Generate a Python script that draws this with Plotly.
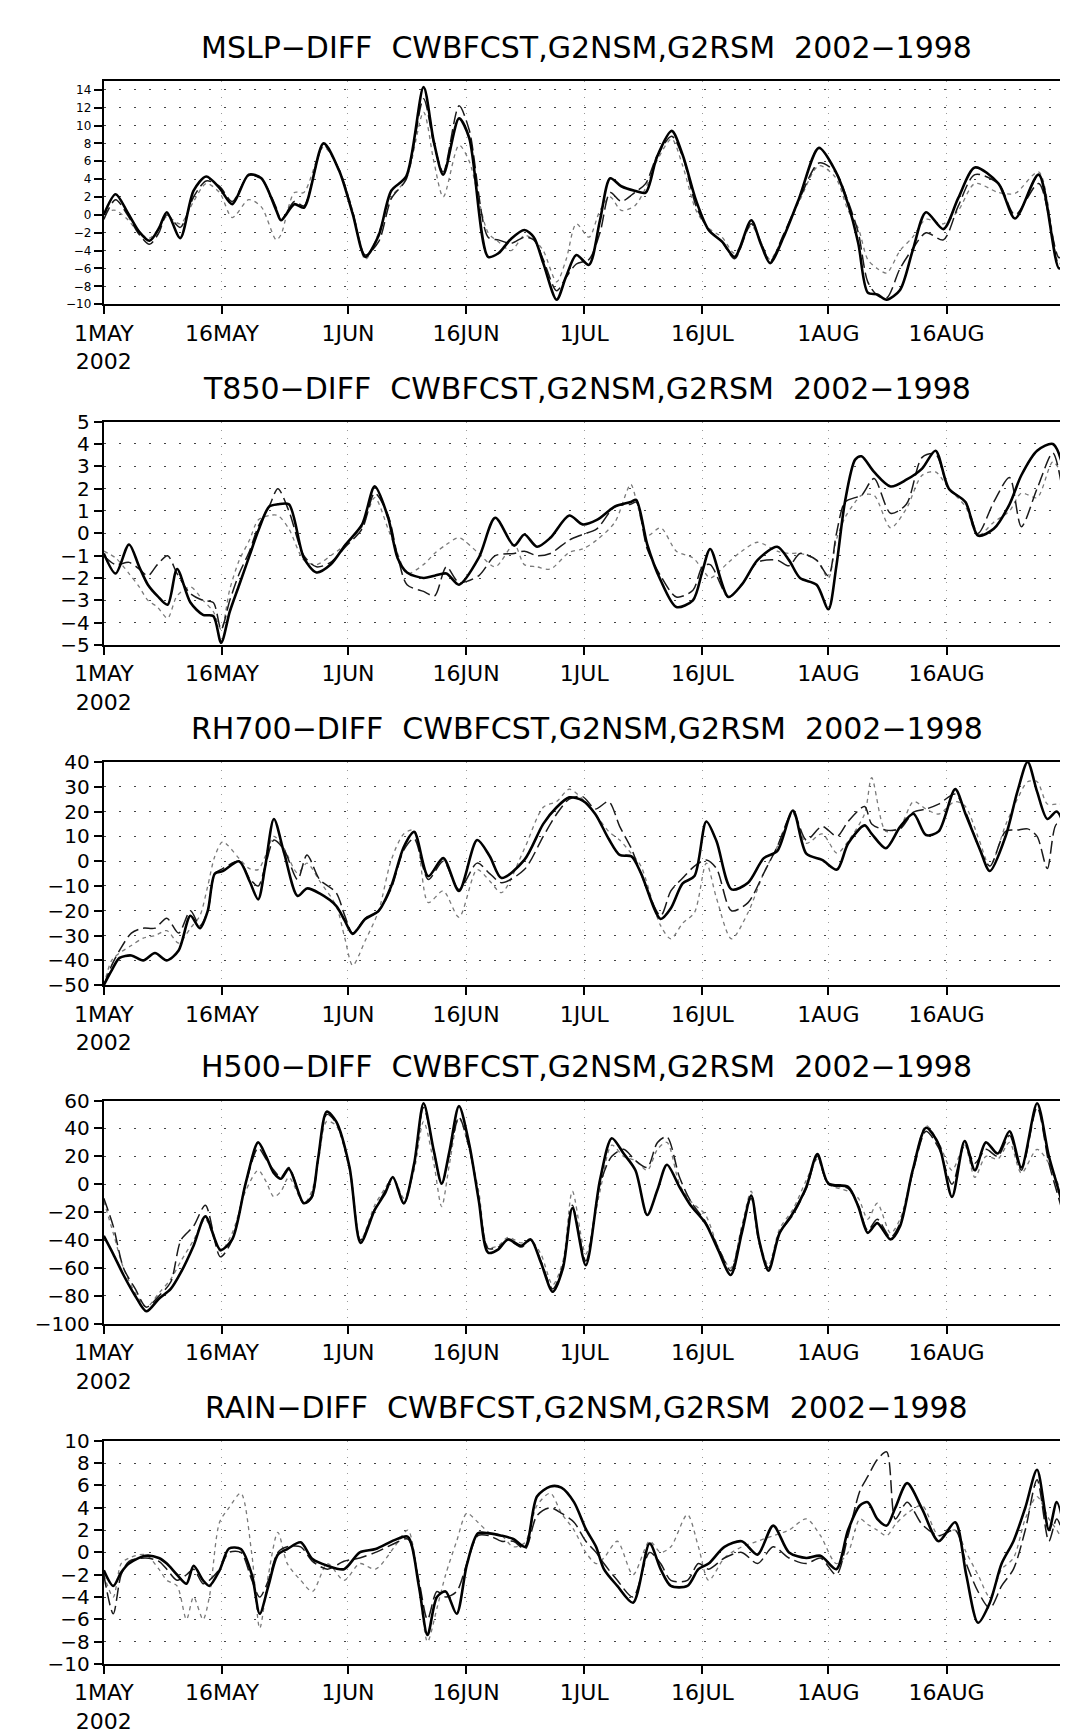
import plotly.graph_objects as go

# ---------------- shared axis labels ----------------
TICK_DAYS = [0, 15, 31, 46, 61, 76, 92, 107]          # days since 1 May 2002
TICK_TEXT = ["1MAY<br>2002", "16MAY", "1JUN", "16JUN", "1JUL", "16JUL", "1AUG", "16AUG"]
X_RANGE = [0, 122.7]

TITLES = [
    "MSLP\u2212DIFF\u00a0\u00a0CWBFCST,G2NSM,G2RSM\u00a0\u00a02002\u22121998",
    "T850\u2212DIFF\u00a0\u00a0CWBFCST,G2NSM,G2RSM\u00a0\u00a02002\u22121998",
    "RH700\u2212DIFF\u00a0\u00a0CWBFCST,G2NSM,G2RSM\u00a0\u00a02002\u22121998",
    "H500\u2212DIFF\u00a0\u00a0CWBFCST,G2NSM,G2RSM\u00a0\u00a02002\u22121998",
    "RAIN\u2212DIFF\u00a0\u00a0CWBFCST,G2NSM,G2RSM\u00a0\u00a02002\u22121998",
]

# ---------------- MSLP ----------------
mslp_days = [0, 1.5, 3, 4.5, 5.8, 7, 8, 9.7, 11.4, 13,
             14.7, 16.3, 18.4, 20, 21.9, 22.5, 24.2, 25.4, 27.9, 29.9,
             31.6, 33.2, 34.9, 36.5, 38.4, 40.6, 41.9, 43.1, 45.1, 46.4,
             48.8, 50.1, 51.7, 53.4, 54.6, 55.8, 57.5, 58.7, 60, 61.6,
             63, 64.3, 65.7, 67.4, 68.8, 70.2, 72.1, 73.5, 75.2, 76.8,
             78.5, 80.1, 82.2, 83.4, 84.6, 86.3, 88.3, 90.8, 92.9, 94.5,
             95.8, 97, 98.2, 99.4, 101.1, 102.7, 104.4, 106.6, 108.5, 110.6,
             113.6, 115.7, 118.7, 121.3, 122.7]
mslp_cwb = [0.0, 2.3, 0.3, -1.9, -2.9, -1.5, 0.3, -2.6, 2.7, 4.3,
            3.0, 1.2, 4.5, 4.1, 0.5, -0.6, 1.2, 0.8, 8.0, 4.9,
            0.1, -4.7, -2.3, 2.7, 4.3, 14.3, 8.2, 4.5, 10.8, 8.6,
            -4.7, -4.3, -2.7, -1.7, -2.5, -5.4, -9.5, -6.9, -4.5, -5.6,
            -0.6, 4.1, 3.2, 2.7, 2.5, 6.4, 9.4, 6.7, 1.6, -1.7,
            -3.0, -4.7, -0.6, -3.2, -5.4, -2.5, 1.9, 7.5, 4.9, 1.2,
            -3.2, -8.7, -8.9, -9.5, -8.4, -4.0, 0.3, -1.6, 1.9, 5.3,
            3.5, -0.4, 4.5, -6.0, -3.2]
mslp_nsm = [-0.5, 1.7, 0.0, -2.2, -3.3, -2.0, 0.0, -1.4, 2.0, 3.8,
            3.2, 1.5, 4.4, 4.0, 0.8, -0.6, 1.5, 1.0, 7.8, 5.0,
            0.3, -4.5, -3.0, 1.8, 4.0, 13.0, 8.0, 4.8, 12.2, 9.5,
            -2.5, -2.8, -3.2, -2.5, -2.8, -5.0, -8.5, -7.0, -5.5, -5.0,
            -2.0, 2.5, 1.5, 2.5, 3.5, 6.5, 8.8, 6.5, 1.0, -1.7,
            -3.0, -4.9, -1.0, -3.0, -5.2, -2.2, 1.7, 5.8, 4.8, 1.5,
            -2.0, -7.5, -9.0, -9.3, -6.0, -3.8, -2.0, -2.8, 1.0, 4.5,
            3.5, 0.0, 3.5, -4.8, -2.5]
mslp_rsm = [0.3, 0.5, -0.5, -2.0, -2.6, -1.5, -0.2, -1.0, 1.5, 3.5,
            2.5, -0.3, 1.7, 0.9, -2.8, -2.2, 2.5, 2.5, 7.6, 5.0,
            0.5, -5.0, -2.0, 2.0, 4.0, 11.5, 6.0, 2.0, 7.8, 6.0,
            -2.0, -3.0, -4.0, -2.3, -2.8, -4.0, -7.5, -5.0, -1.0, -2.5,
            0.5, 2.0, 0.5, 1.0, 3.0, 6.0, 8.5, 5.5, 0.5, -1.5,
            -2.5, -4.3, -1.2, -3.0, -5.0, -2.3, 1.5, 5.5, 4.2, 0.5,
            -1.5, -5.0, -6.0, -6.5, -4.0, -2.5, -0.5, -1.0, 0.5, 3.5,
            2.5, 2.4, 4.8, -5.5, -2.5]
mslp_yticks = list(range(-10, 15, 2))
mslp_yrange = [-10, 15]

# ---------------- T850 ----------------
t850_days = [0, 1.5, 3.2, 4.5, 5.6, 6.8, 8.1, 9.3, 11.0, 12.6,
             13.9, 14.9, 16.0, 17.2, 18.5, 19.6, 21.0, 22.1, 23.5, 25.4,
             27.0, 28.8, 30.7, 32.8, 34.4, 36.1, 37.3, 38.5, 40.6, 42.0,
             43.5, 45.1, 47.6, 49.7, 52.1, 53.4, 55.0, 56.7, 59.1, 60.8,
             62.6, 64.9, 66.9, 67.6, 69.0, 70.7, 72.7, 74.8, 76.0, 77.0,
             79.3, 81.0, 83.0, 85.5, 87.0, 88.4, 90.5, 92.0, 93.0, 94.1,
             95.4, 96.2, 97.8, 99.9, 101.9, 103.9, 105.6, 107.3, 109.4, 111.0,
             113.0, 115.0, 116.5, 118.5, 120.5, 121.8, 122.7]
t850_cwb = [-0.9, -1.8, -0.5, -1.5, -2.3, -2.8, -3.2, -1.6, -3.1, -3.65,
            -3.7, -4.9, -3.5, -2.3, -1.0, 0.1, 1.2, 1.3, 1.3, -1.1,
            -1.75, -1.4, -0.5, 0.4, 2.1, 0.7, -1.1, -1.75, -2.0, -1.9,
            -1.8, -2.3, -1.1, 0.7, -0.55, -0.05, -0.6, -0.2, 0.8, 0.4,
            0.6, 1.2, 1.4, 1.5, -0.5, -2.1, -3.3, -3.0, -1.7, -0.7,
            -2.85, -2.3, -1.2, -0.6, -1.2, -2.0, -2.3, -3.4, -1.5, 1.4,
            3.3, 3.45, 2.75, 2.1, 2.4, 2.9, 3.7, 2.0, 1.4, -0.1,
            0.2, 1.3, 2.6, 3.7, 4.0, 3.0, 0.6]
t850_nsm = [-1.0, -1.4, -1.3, -1.6, -1.9, -1.4, -1.0, -1.8, -2.7, -3.0,
            -3.1, -4.3, -3.0, -1.8, -0.8, 0.3, 1.2, 2.0, 1.0, -1.0,
            -1.5, -1.3, -0.6, 0.2, 1.8, 0.8, -1.0, -2.3, -2.6, -2.8,
            -1.5, -2.2, -1.9, -1.0, -0.9, -0.8, -1.0, -0.9, -0.3, -0.05,
            0.2, 1.2, 1.3, 1.4, -0.7, -1.9, -2.85, -2.55, -1.5, -1.4,
            -2.85, -2.3, -1.3, -1.2, -1.45, -0.9, -1.2, -1.9, -0.05, 1.4,
            1.6, 1.7, 2.45, 0.9, 1.3, 3.4, 3.55, 2.0, 1.4, 0.0,
            1.4, 2.5, 0.3, 2.0, 3.6, 1.8, -0.3]
t850_rsm = [-0.8, -1.1, -1.8, -2.4, -3.0, -3.3, -3.8, -2.8, -2.4, -3.0,
            -3.5, -4.3, -2.5, -1.2, -0.3, 0.6, 0.8, 0.8, 0.2, -1.2,
            -1.4, -1.0, -0.5, 0.3, 1.6, 0.2, -0.9, -1.8, -1.4, -0.9,
            -0.5, -0.2, -0.9, -1.5, -0.5, -1.4, -1.5, -1.6, -0.85, -0.7,
            -0.3, 0.5, 2.2, 1.5, -0.1, 0.25, -0.8, -1.1, -1.6, -2.0,
            -1.3, -0.8, -0.4, -0.8, -0.9, -0.9, -1.2, -2.0, -0.3, 0.7,
            1.4, 1.7, 1.7, 0.25, 1.1, 2.6, 2.75, 2.0, 1.2, -0.1,
            0.5, 1.0, 1.8, 1.6, 3.2, 2.5, 0.5]
t850_yticks = list(range(-5, 6, 1))
t850_yrange = [-5, 5]

# ---------------- RH700 ----------------
rh_days = [0, 1.0, 2.0, 3.5, 5.0, 6.5, 8.0, 9.5, 11.0, 12.2,
           13.2, 14.1, 15.1, 17.2, 18.5, 19.6, 20.5, 21.6, 22.9, 24.6,
           25.8, 27.4, 29.5, 30.6, 31.6, 33.2, 34.9, 36.5, 38.1, 39.4,
           41.2, 43.1, 45.1, 47.4, 49.0, 50.5, 53.4, 55.8, 57.5, 59.1,
           60.8, 62.4, 64.1, 65.5, 67.0, 68.2, 70.7, 72.0, 73.5, 75.0,
           76.5, 77.8, 79.7, 81.8, 83.8, 85.5, 87.5, 89.2, 91.2, 93.1,
           94.5, 96.6, 97.5, 99.3, 101.1, 102.8, 104.4, 106.0, 108.1, 109.4,
           111.2, 112.5, 114.5, 116.0, 117.3, 118.5, 119.8, 121.0, 122.7]
rh_cwb = [-50, -44, -39, -38, -40, -37, -40, -36, -22, -27,
          -20, -5, -4, -0.1, -8, -15.4, -2, 17, 3.2, -14,
          -11, -13, -18, -24, -29.3, -23.3, -20, -10, 5.8, 11.8,
          -6.1, 1.2, -12, 8.5, 2, -6.8, 0.5, 15, 21.7, 25.7,
          24.4, 19, 9, 2.5, 1.9, -4.8, -23.3, -19, -9, -6,
          16, 8, -11.4, -8.7, 1.2, 4, 20.4, 3, 0.5, -3.4,
          7.1, 14.4, 11, 5.2, 13.8, 19.1, 10.5, 12, 29, 19.1,
          5, -4, 10, 28, 40, 28, 17, 20, 6]
rh_nsm = [-50, -42, -36, -29, -27, -27, -23, -29, -20, -26,
          -20, -5, -3, 0, -7, -10, -2, 8.5, 4.5, -7.4,
          2.5, -7.4, -12.7, -22, -29, -23, -20, -11, 4.5, 9.1,
          -7.4, 0, -11.4, -0.8, -5, -8.7, -3.4, 10, 19, 25,
          26, 21, 24, 14, 5, -5, -22, -12, -6.8, -2,
          0.5, -3, -20, -16.7, -4.8, 5.8, 19.7, 8.5, 14, 10,
          16, 22, 15, 12.5, 13, 19.7, 21, 23, 27, 20,
          5, -2, 12, 12.5, 13, 10, -3, 15, 12]
rh_rsm = [-50, -40, -37, -34, -31, -30, -28, -33, -27, -22,
          -10, 2, 7.8, 1, -3, -3.4, 2, 10, 5, -4.8,
          -0.8, -8, -18, -31, -42, -32, -20, 0.5, 11, 12.5,
          -16.7, -12, -22.6, -3.4, -8, -12.7, 5, 21.7, 24, 29,
          25, 19, 12, 8.5, 3, -2, -26, -31.3, -25, -20.7,
          -0.8, -15, -31.3, -20.7, -4.8, 5.8, 19.1, 7.2, 11, 3.2,
          8, 19.1, 33.6, 12, 14, 24, 21, 19, 24, 22,
          8, -2, 14.6, 25, 32, 32, 23, 23, 23]
rh_yticks = list(range(-50, 41, 10))
rh_yrange = [-50, 40]

# ---------------- H500 ----------------
h500_days = [0, 1.2, 2.5, 4.0, 5.4, 7.0, 8.5, 9.8, 11.4, 12.9,
             14.8, 16.3, 18.0, 19.6, 20.6, 21.6, 22.5, 23.5, 25.4, 26.4,
             27.2, 28.3, 29.5, 31.2, 32.6, 34.4, 35.7, 36.7, 38.1, 39.4,
             40.6, 41.9, 42.9, 43.9, 45.1, 46.4, 47.6, 48.8, 50.1, 51.3,
             53.0, 54.2, 55.5, 57.0, 58.3, 59.5, 61.2, 63.0, 64.5, 66.0,
             67.5, 69.0, 70.3, 71.5, 73.1, 74.5, 76.4, 78.0, 79.6, 81.0,
             82.2, 83.2, 84.4, 85.8, 87.5, 89.2, 90.6, 92.0, 94.5, 95.8,
             97.0, 98.2, 99.9, 101.1, 102.7, 104.4, 106.0, 107.7, 109.3, 110.6,
             112.0, 113.5, 115.0, 116.5, 118.5, 120.0, 121.5, 122.7]
h500_cwb = [-37, -50, -65, -80, -91, -82, -75, -63, -44, -23,
            -47, -39.5, 0.5, 30, 20, 8, 4, 11, -13.6, -9,
            18, 52, 45, 12.2, -42, -18.4, -6.6, 5.2, -13.6, 14.6,
            58, 24, 0.5, 24, 56, 28.7, -11.3, -49, -46.6, -39.5,
            -44, -39.5, -56, -77, -60, -17, -58, 3, 33, 22,
            10, -22, -4, 14, -2, -15, -28, -47, -65, -35,
            -8, -40, -62, -35, -20.7, -1.9, 21.6, 0.5, -1.9, -16,
            -34.8, -27.8, -39.5, -30, 9.9, 40.5, 28.7, -9, 31, 10,
            30, 22, 38, 12, 58, 20, -10, -45]
h500_nsm = [-10, -30, -60, -75, -88, -80, -70, -40, -30, -15,
            -52, -40, 0, 26, 18, 10, 5, 12, -14, -10,
            18, 50, 44, 12, -40, -18, -5, 5, -14, 14,
            55, 24, 0, 22, 48, 26, -10, -46, -45, -40,
            -45, -40, -55, -75, -58, -15, -55, 0, 20, 25,
            17, 12, 30, 34, 5, -12, -27, -45, -62, -32,
            -10, -42, -60, -35, -22, -3, 20, 0, -3, -15,
            -33, -25, -38, -28, 8, 38, 26, 0, 28, 15,
            25, 20, 35, 10, 55, 15, -15, -40]
h500_rsm = [-12, -35, -60, -78, -88, -78, -68, -55, -40, -25,
            -48, -35, -5, 10, 2, -9, -5, 5, -14, -5,
            15, 45, 42, 10, -40, -15, -3, 5, -10, 10,
            45, 15, -16, 15, 48, 25, -5, -45, -44, -38,
            -42, -40, -50, -72, -55, -5, -50, -5, 28, 20,
            17, 10, 25, 30, 0, -12, -22, -45, -60, -30,
            -5, -40, -58, -32, -18, 3, 18, 0, -5, -10,
            -25, -13.6, -35, -25, 10, 42, 30, 10, 28, 5,
            20, 18, 30, 8, 25, 15, -5, -30]
h500_yticks = list(range(-100, 61, 20))
h500_yrange = [-100, 60]

# ---------------- RAIN ----------------
rain_days = [0, 1.2, 2.2, 3.2, 5.3, 7.0, 8.0, 9.3, 10.5, 11.4,
             12.6, 13.4, 14.7, 15.9, 17.4, 18.8, 19.8, 20.9, 22.1, 23.3,
             25.0, 26.5, 28.4, 30.5, 32.5, 34.5, 36.9, 38.6, 40.0, 41.1,
             42.3, 43.4, 44.8, 46.1, 47.5, 48.9, 50.5, 52.0, 53.5, 55.0,
             56.7, 58.1, 59.7, 61.2, 62.5, 63.5, 65.2, 67.2, 69.3, 70.7,
             72.0, 74.1, 75.5, 76.8, 78.8, 81.0, 83.0, 85.0, 87.0, 89.2,
             91.0, 93.0, 94.5, 96.0, 97.0, 98.2, 99.4, 100.5, 102.0, 103.9,
             106.0, 108.1, 109.5, 111.0, 112.5, 114.0, 115.5, 117.0, 118.5, 120.0,
             121.0, 122.7]
rain_cwb = [-1.6, -3.0, -1.8, -1.0, -0.3, -0.5, -1.0, -2.0, -2.8, -1.2,
            -2.5, -3.0, -1.6, 0.35, 0.3, -2.0, -5.5, -3.0, -0.2, 0.3,
            0.9, -0.6, -1.2, -1.5, 0.0, 0.3, 1.1, 1.4, -3.0, -7.4,
            -4.0, -3.5, -5.5, -1.1, 1.7, 1.7, 1.5, 1.2, 0.5, 5.0,
            5.9, 5.8, 4.5, 2.1, 0.5, -1.5, -3.0, -4.5, 0.8, -1.5,
            -3.0, -3.0, -1.5, -1.0, 0.5, 1.0, -0.2, 2.4, 0.0, -0.5,
            -0.3, -1.5, 2.0, 4.2, 4.5, 3.0, 2.4, 4.0, 6.2, 3.9,
            1.0, 2.7, -2.0, -6.3, -4.5, -1.0, 1.0, 4.0, 7.4, 2.0,
            4.5, -1.0]
rain_nsm = [-2.0, -5.5, -2.0, -0.8, -0.5, -0.8, -1.5, -2.5, -2.0, -1.5,
            -2.8, -2.5, -1.5, 0.0, 0.0, -2.5, -4.0, -2.5, 0.0, 0.5,
            0.5, -0.8, -1.5, -0.8, -0.5, 0.0, 0.8, 1.2, -2.5, -6.0,
            -3.5, -4.0, -3.5, -1.0, 1.5, 1.5, 1.0, 1.0, 0.3, 3.3,
            4.0, 3.5, 2.7, 1.0, 0.0, -1.0, -2.5, -4.0, 0.0, -1.0,
            -2.5, -2.5, -1.0, -1.5, -0.5, 0.0, -1.0, 0.5, -0.5, -1.0,
            -0.5, -2.0, 1.5, 5.5, 6.8, 8.3, 9.0, 3.0, 4.5, 2.5,
            1.5, 2.0, -1.0, -3.5, -5.0, -3.0, -1.5, 2.0, 6.5, 1.0,
            3.0, -1.0]
rain_rsm = [-2.0, -4.0, -1.0, -0.5, -0.2, -1.5, -2.5, -3.0, -6.0, -4.0,
            -6.0, -4.0, 2.7, 4.0, 5.3, -0.2, -6.8, -2.0, 1.8, -1.0,
            -2.5, -3.5, -1.0, -2.5, -1.0, -1.5, 0.5, 2.0, -3.0, -8.0,
            -5.0, -2.0, 1.0, 3.5, 2.7, 1.8, 1.5, 0.5, 0.9, 4.2,
            5.3, 3.5, 2.0, 0.0, -1.0, -0.5, 1.0, -2.0, 1.0, 0.0,
            0.5, 3.4, 0.5, -2.5, -0.5, 0.5, 1.0, 1.5, 2.0, 3.0,
            1.5, -1.0, 0.0, 3.0, 2.5, 2.0, 1.5, 2.5, 3.5, 4.2,
            1.5, 2.0, 0.0, -2.0, -4.0, -1.5, -0.5, 3.0, 5.0, 3.0,
            2.0, 0.0]
rain_yticks = list(range(-10, 11, 2))
rain_yrange = [-10, 10]

PANELS = [
    (mslp_days, mslp_cwb, mslp_nsm, mslp_rsm, mslp_yticks, mslp_yrange),
    (t850_days, t850_cwb, t850_nsm, t850_rsm, t850_yticks, t850_yrange),
    (rh_days, rh_cwb, rh_nsm, rh_rsm, rh_yticks, rh_yrange),
    (h500_days, h500_cwb, h500_nsm, h500_rsm, h500_yticks, h500_yrange),
    (rain_days, rain_cwb, rain_nsm, rain_rsm, rain_yticks, rain_yrange),
]
for p in PANELS:
    assert len(p[0]) == len(p[1]) == len(p[2]) == len(p[3]), [len(a) for a in p[:4]]

# ---------------- layout geometry (pixels) ----------------
W, H = 1068, 1731
PLOT_L, PLOT_R = 67.7, 1062
PANEL_TOPS = [61.7, 407.3, 752.3, 1095.7, 1440.7]
PANEL_H = 226.5
FONT = "DejaVu Sans"
YTICK_SIZES = [12, 20, 20, 20, 20]   # first panel has tightly packed ticks

fig = go.Figure()
layout = dict(
    width=W, height=H,
    margin=dict(l=0, r=0, t=0, b=0),
    paper_bgcolor="white", plot_bgcolor="white",
    showlegend=False,
    annotations=[],
)

for i, (days, cwb, nsm, rsm, yticks, yrange) in enumerate(PANELS):
    n = "" if i == 0 else str(i + 1)
    xa, ya = "x" + n, "y" + n
    styles = [
        ("G2RSM", rsm, dict(color="#7a7a7a", width=1.3, dash="4px,4px")),
        ("G2NSM", nsm, dict(color="#1a1a1a", width=1.5, dash="13px,5px")),
        ("CWBFCST", cwb, dict(color="black", width=2.6)),
    ]
    for name, vals, ln in styles:
        fig.add_trace(go.Scatter(
            x=days, y=vals, mode="lines", name=name,
            line=dict(shape="spline", smoothing=0.8, **ln),
            xaxis=xa, yaxis=ya, hoverinfo="skip",
        ))
    top = PANEL_TOPS[i]
    y0 = 1 - (top + PANEL_H) / H
    y1 = 1 - top / H
    layout["xaxis" + n] = dict(
        domain=[PLOT_L / W, PLOT_R / W], anchor=ya, range=X_RANGE,
        tickmode="array", tickvals=TICK_DAYS, ticktext=TICK_TEXT,
        ticks="outside", ticklen=8, tickwidth=1.5, tickcolor="black",
        showline=True, linecolor="black", linewidth=2, mirror=True,
        showgrid=True, gridcolor="#9a9a9a", gridwidth=1, griddash="1px,7px",
        zeroline=False, tickangle=0,
        tickfont=dict(family=FONT, size=22, color="black"),
    )
    layout["yaxis" + n] = dict(
        domain=[y0, y1], anchor=xa, range=yrange,
        tickmode="array", tickvals=yticks,
        ticks="outside", ticklen=8, tickwidth=1.5, tickcolor="black",
        showline=True, linecolor="black", linewidth=2, mirror=True,
        showgrid=True, gridcolor="#444444", gridwidth=1.4, griddash="2px,13px",
        zeroline=False,
        tickfont=dict(family=FONT, size=YTICK_SIZES[i], color="black"),
    )
    layout["annotations"].append(dict(
        text=TITLES[i], xref="paper", yref="paper",
        x=(PLOT_L + PLOT_R) / 2 / W, y=1 - (top - 34) / H,
        xanchor="center", yanchor="middle", showarrow=False,
        font=dict(family=FONT, size=30, color="black"),
    ))

fig.update_layout(**layout)
fig.write_html("out.html")
